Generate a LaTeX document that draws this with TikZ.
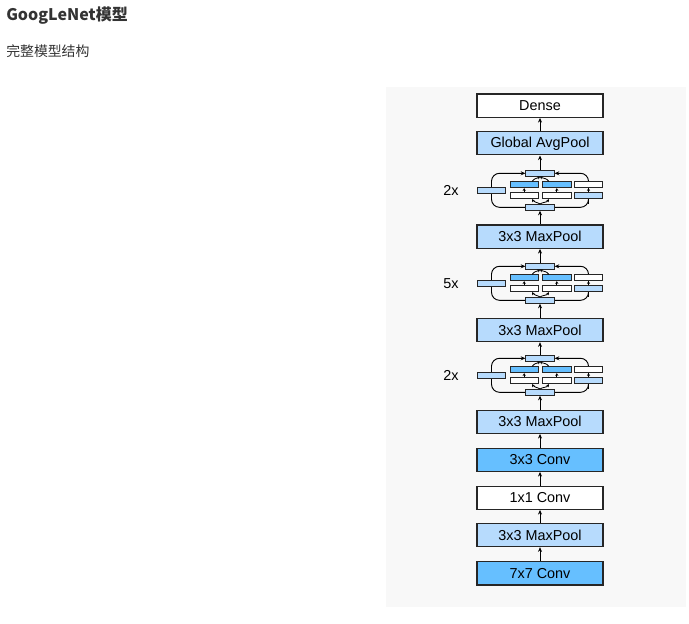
\documentclass[tikz,border=0pt]{standalone}
\usepackage{fontspec}
\setmainfont{Liberation Sans}
\newfontfamily\cjk{Noto Sans CJK SC}
\usetikzlibrary{arrows.meta,backgrounds}

\definecolor{poolblue}{RGB}{183,219,253}
\definecolor{convblue}{RGB}{102,191,255}
\definecolor{panelgray}{RGB}{248,248,248}
\definecolor{inkgray}{RGB}{51,51,51}

\tikzset{
  layer/.style={draw=black!85, line width=0.8pt, minimum width=94.5pt, minimum height=17.5pt, inner sep=0pt, font=\fontsize{10.8}{12}\selectfont},
  pool/.style={layer, fill=poolblue},
  conv/.style={layer, fill=convblue},
  plain/.style={layer, fill=white},
  unit/.style={draw=black!85, line width=0.6pt, minimum width=21.3pt, minimum height=4.5pt, inner sep=0pt},
  flow/.style={-{Stealth[length=3.5pt,width=3pt]}, line width=0.7pt},
  tinyflow/.style={-{Stealth[length=2pt,width=2.4pt]}, line width=0.6pt},
  heading/.style={anchor=base west, inner sep=0pt, text=inkgray, font=\cjk\bfseries\fontsize{12}{14}\selectfont},
  subheading/.style={anchor=base west, inner sep=0pt, text=inkgray, font=\cjk\fontsize{10.4}{12}\selectfont},
  repeat/.style={font=\fontsize{10.8}{12}\selectfont}
}

\begin{document}
\begin{tikzpicture}[x=0.75pt,y=0.75pt]
\useasboundingbox (0,0) rectangle (689,-624);
\begin{scope}[on background layer]
\fill[panelgray] (386,-87) rectangle (686,-607);
\end{scope}

\node[heading] (title) at (6,-21) {GoogLeNet模型};
\node[subheading] (subtitle) at (6,-57) {完整模型结构};

\node[plain] (dense) at (540,-105.7) {Dense};
\node[pool] (gap) at (540,-143.3) {Global AvgPool};
\node[pool] (pool3) at (540,-236.7) {3x3 MaxPool};
\node[pool] (pool2) at (540,-330) {3x3 MaxPool};
\node[pool] (pool1) at (540,-421.7) {3x3 MaxPool};
\node[conv] (conv3) at (540,-459.7) {3x3 Conv};
\node[plain] (conv2) at (540,-497.7) {1x1 Conv};
\node[pool] (pool0) at (540,-535) {3x3 MaxPool};
\node[conv] (conv1) at (540,-573.3) {7x7 Conv};

\foreach \y/\rep/\k in {-170.3/2x/a,-263.3/5x/b,-355.3/2x/c}{
  \node[repeat] (rep\k) at (451,\y-20.4) {\rep};
  \node[unit, fill=poolblue] (top\k) at (540,\y-3) {};
  \node[unit, fill=poolblue] (bot\k) at (540,\y-37) {};
  \node[unit, fill=poolblue] (p1\k) at (491.5,\y-20.3) {};
  \node[unit, fill=convblue] (p2hi\k) at (524.2,\y-14.5) {};
  \node[unit, fill=white] (p2lo\k) at (524.2,\y-25.5) {};
  \node[unit, fill=convblue] (p3hi\k) at (556.8,\y-14.5) {};
  \node[unit, fill=white] (p3lo\k) at (556.8,\y-25.5) {};
  \node[unit, fill=white] (p4hi\k) at (588.5,\y-14.5) {};
  \node[unit, fill=poolblue] (p4lo\k) at (588.5,\y-25.5) {};
  \begin{scope}[on background layer]
  \draw[flow, rounded corners=6pt] (bot\k.west) -| (p1\k.center) |- (top\k.west);
  \draw[flow, rounded corners=6pt] (bot\k.east) -| (p4lo\k.center) |- (top\k.east);
  \end{scope}
  \draw[tinyflow] (p2lo\k) -- (p2hi\k);
  \draw[tinyflow] (p3lo\k) -- (p3hi\k);
  \draw[tinyflow] (p4lo\k) -- (p4hi\k);
  \draw[tinyflow] (bot\k.north) to[out=150,in=-60] ([xshift=6pt]p2lo\k.south);
  \draw[tinyflow] (bot\k.north) to[out=30,in=-120] ([xshift=-6pt]p3lo\k.south);
  \draw[tinyflow] ([xshift=6pt]p2hi\k.north) to[out=60,in=-150] (top\k.south);
  \draw[tinyflow] ([xshift=-6pt]p3hi\k.north) to[out=120,in=-30] (top\k.south);
}

\draw[flow] (conv1) -- (pool0);
\draw[flow] (pool0) -- (conv2);
\draw[flow] (conv2) -- (conv3);
\draw[flow] (conv3) -- (pool1);
\draw[flow] (pool1) -- (botc);
\draw[flow] (topc) -- (pool2);
\draw[flow] (pool2) -- (botb);
\draw[flow] (topb) -- (pool3);
\draw[flow] (pool3) -- (bota);
\draw[flow] (topa) -- (gap);
\draw[flow] (gap) -- (dense);
\end{tikzpicture}
\end{document}
